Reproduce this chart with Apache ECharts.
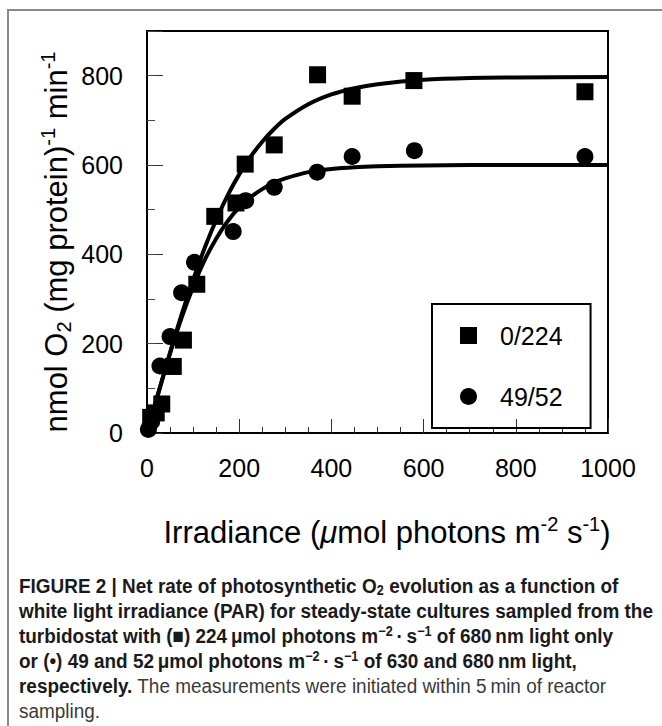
<!DOCTYPE html>
<html><head><meta charset="utf-8">
<script src="https://cdn.jsdelivr.net/npm/echarts@6/dist/echarts.min.js"></script>
<style>html,body{margin:0;padding:0;background:#fff}#c{width:662px;height:726px}</style>
</head><body><div id="c"></div>
<script>
// ---- data ----
const squareX = [8, 20, 32, 57, 79, 108, 147, 193, 213, 276, 370, 445, 579, 950];
const squareY = [35, 45, 65, 149, 208, 333, 485, 515, 602, 645, 802, 754, 789, 764];
const circleX = [3, 10, 28, 50, 75, 103, 187, 214, 276, 369, 445, 580, 950];
const circleY = [8, 25, 150, 216, 314, 382, 451, 520, 550, 584, 619, 632, 619];
const fitX = [0, 25, 50, 75, 100, 125, 150, 175, 200, 225, 250, 275, 300, 350, 400, 450, 500, 600, 700, 800, 1000];
const fit224Y = [0, 91, 180, 265, 343, 414, 477, 532, 579, 619, 652, 680, 703, 736, 758, 772, 781, 791, 795, 796, 797];
const fit4952Y = [0, 91, 178, 258, 327, 387, 435, 474, 505, 528, 546, 560, 570, 584, 591, 595, 597, 599, 600, 600, 600];
const xTicks = [0, 200, 400, 600, 800, 1000];
const yTicks = [0, 200, 400, 600, 800];
const seriesNames = ['0/224', '49/52'];

const FONT = '"Liberation Sans", Arial, Helvetica, sans-serif';
const CAPFONT = '"Liberation Sans", Arial, Helvetica, sans-serif';

const zip = (a, b) => a.map((v, i) => [v, b[i]]);

const capLines = [
  'FIGURE 2 | Net rate of photosynthetic O{bsub|2} evolution as a function of',
  'white light irradiance (PAR) for steady-state cultures sampled from the',
  'turbidostat with (\u25A0) 224\u2009\u03BCmol photons m{bsup|\u22122}\u2009\u00B7\u2009s{bsup|\u22121} of 680\u2009nm light only',
  'or (\u2022) 49 and 52\u2009\u03BCmol photons m{bsup|\u22122}\u2009\u00B7\u2009s{bsup|\u22121} of 630 and 680\u2009nm light,',
  'respectively.{r| The measurements were initiated within 5\u2009min of reactor}',
  '{r|sampling.}'
];

// measure caption width to fit the reference line length
const cv = document.createElement('canvas').getContext('2d');
cv.font = 'bold 21px ' + CAPFONT;
const w2 = cv.measureText('white light irradiance (PAR) for steady-state cultures sampled from the').width;
const capScale = 634 / w2;

const capRich = {
  bsub: {fontSize: 14, fontWeight: 'bold', fontFamily: CAPFONT, verticalAlign: 'bottom', lineHeight: 14, fill: '#1a1a1a'},
  bsup: {fontSize: 14, fontWeight: 'bold', fontFamily: CAPFONT, verticalAlign: 'top', lineHeight: 14, fill: '#1a1a1a'},
  r: {fontSize: 21, fontWeight: 'normal', fontFamily: CAPFONT, fill: '#3a3a3a'}
};

const capChildren = capLines.map((t, i) => ({
  type: 'text', x: 0, y: 586 + i * 25,
  style: {text: t, rich: capRich, fontSize: 21, fontWeight: 'bold', fontFamily: CAPFONT,
          fill: '#1a1a1a', verticalAlign: 'middle', align: 'left', lineHeight: 23}
}));

const axisRich = {
  sup: {fontSize: 20, fontFamily: FONT, verticalAlign: 'top', lineHeight: 20, fill: '#000'},
  sub: {fontSize: 20, fontFamily: FONT, verticalAlign: 'bottom', lineHeight: 20, fill: '#000'},
  it: {fontSize: 31, fontFamily: FONT, fontStyle: 'italic', fill: '#000'}
};

const chart = echarts.init(document.getElementById('c'), null, {renderer: 'svg'});
chart.setOption({
  animation: false,
  backgroundColor: '#fff',
  grid: {left: 147, top: 31, width: 461, height: 402, show: true, borderColor: '#000', borderWidth: 2,
         containLabel: false, outerBoundsMode: 'none'},
  xAxis: {
    type: 'value', min: xTicks[0], max: xTicks[xTicks.length - 1], interval: xTicks[1] - xTicks[0],
    axisLine: {show: true, lineStyle: {color: '#000', width: 2}},
    axisTick: {show: true, inside: true, length: 14, lineStyle: {color: '#333', width: 1}},
    minorTick: {show: true, splitNumber: 4, length: 6, lineStyle: {color: '#333', width: 1}},
    axisLabel: {fontSize: 25, color: '#000', fontFamily: FONT, margin: 22, showMinLabel: true, showMaxLabel: true,
                formatter: v => String(v)},
    splitLine: {show: false}, minorSplitLine: {show: false}
  },
  yAxis: [{
    type: 'value', min: 0, max: 900, interval: yTicks[1] - yTicks[0],
    axisLine: {show: true, lineStyle: {color: '#000', width: 2}},
    axisTick: {show: true, inside: true, length: 16, lineStyle: {color: '#333', width: 1}},
    axisLabel: {fontSize: 25, color: '#000', fontFamily: FONT, margin: 24,
                formatter: v => (yTicks.indexOf(v) >= 0 ? String(v) : '')},
    splitLine: {show: false}
  }, {
    type: 'value', min: 0, max: 900, interval: 100, position: 'left', offset: 0,
    axisLine: {show: false},
    axisTick: {show: true, inside: true, length: 8, lineStyle: {color: '#444', width: 1}},
    axisLabel: {show: false}, splitLine: {show: false}
  }],
  legend: {
    data: seriesNames, orient: 'vertical', left: 432, top: 304,
    padding: [19, 28, 19, 28], itemWidth: 17, itemHeight: 17, itemGap: 36,
    borderColor: '#000', borderWidth: 2,
    formatter: n => '{g|}{t|' + n + '}',
    textStyle: {fontSize: 25, color: '#000', fontFamily: FONT, lineHeight: 17,
      rich: {g: {width: 18}, t: {fontSize: 25, color: '#000', fontFamily: FONT}}}
  },
  series: [
    {name: 'fit 0/224', type: 'line', data: zip(fitX, fit224Y), smooth: 0.3, showSymbol: false, silent: true,
     lineStyle: {color: '#000', width: 4}, itemStyle: {color: '#000'}, z: 2},
    {name: 'fit 49/52', type: 'line', data: zip(fitX, fit4952Y), smooth: 0.3, showSymbol: false, silent: true,
     lineStyle: {color: '#000', width: 4}, itemStyle: {color: '#000'}, z: 2},
    {name: seriesNames[0], type: 'scatter', symbol: 'rect', symbolSize: 17, data: zip(squareX, squareY),
     itemStyle: {color: '#000', opacity: 1}, z: 3},
    {name: seriesNames[1], type: 'scatter', symbol: 'circle', symbolSize: 17, data: zip(circleX, circleY),
     itemStyle: {color: '#000', opacity: 1}, z: 3}
  ],
  graphic: [
    {type: 'polyline', shape: {points: [[8, 740], [8, 10], [670, 10]]}, style: {stroke: '#8a8a8a', lineWidth: 2, fill: null}},
    {type: 'text', x: 387, y: 532, style: {
      text: 'Irradiance ({it|\u03BC}mol photons m{sup|-2} s{sup|-1})', rich: axisRich,
      fontSize: 31, fontFamily: FONT, fill: '#000', align: 'center', verticalAlign: 'middle', lineHeight: 36}},
    {type: 'text', x: 56, y: 242, rotation: Math.PI / 2, style: {
      text: 'nmol O{sub|2} (mg protein){sup|-1} min{sup|-1}', rich: axisRich,
      fontSize: 31, fontFamily: FONT, fill: '#000', align: 'center', verticalAlign: 'middle', lineHeight: 36}},
    {type: 'group', x: 19, y: 0, scaleX: capScale, children: capChildren}
  ]
});
</script>
</body></html>
